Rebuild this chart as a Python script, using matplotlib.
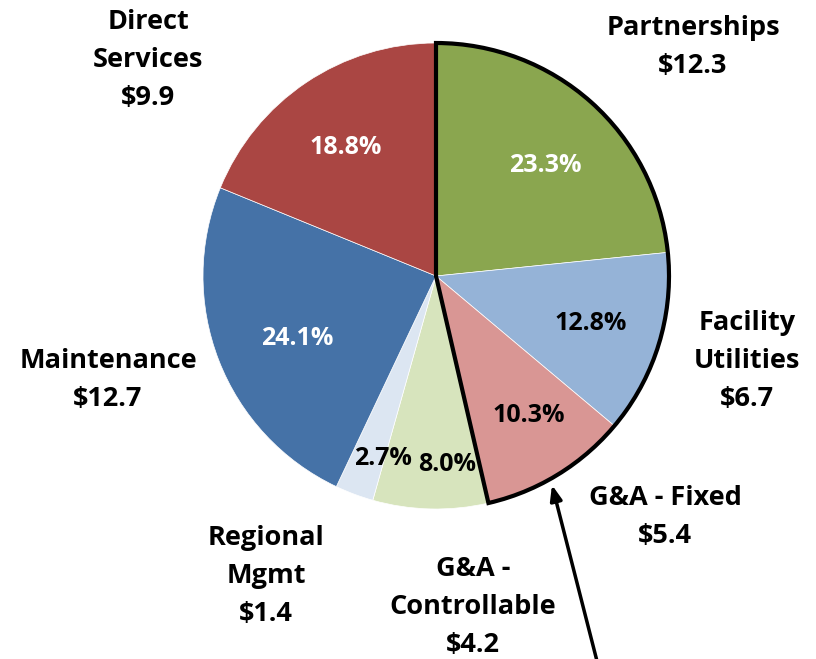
import numpy as np
import matplotlib
matplotlib.use("Agg")
import matplotlib.pyplot as plt
from matplotlib.patches import Wedge

categories = ["Partnerships", "Facility\nUtilities", "G&A - Fixed", "G&A -\nControllable",
              "Regional\nMgmt", "Maintenance", "Direct\nServices"]
values = [12.3, 6.7, 5.4, 4.2, 1.4, 12.7, 9.9]
pct_labels = ["23.3%", "12.8%", "10.3%", "8.0%", "2.7%", "24.1%", "18.8%"]
dollar_labels = ["$12.3", "$6.7", "$5.4", "$4.2", "$1.4", "$12.7", "$9.9"]

colors = ["#8AA64F", "#95B3D7", "#D99694", "#D7E4BD", "#DCE6F2", "#4572A7", "#AA4643"]
pct_colors = ["white", "black", "black", "black", "black", "white", "white"]
pct_dist = [0.668, 0.695, 0.72, 0.81, 0.815, 0.651, 0.675]
pct_angle_shift = [-2.5, 0, 2.2, 4.7, 4.2, 3.0, 1.1]
# outer label positions (pixel coords of text center)
outer_pos = [(693, 47), (747, 361), (665, 517), (473, 607), (266, 576), (108, 380), (148, 60)]

W, H = 816, 659
plt.rcParams['font.family'] = ['Open Sans', 'DejaVu Sans']
fig = plt.figure(figsize=(W / 100, H / 100), dpi=100)
ax = fig.add_axes([0, 0, 1, 1])

cx, cy, r = 436, H - 276, 233
wedges, _ = ax.pie(values, colors=colors, startangle=90, counterclock=False,
                   center=(cx, cy), radius=r, frame=True,
                   wedgeprops=dict(edgecolor="white", linewidth=0.5))
ax.set_xlim(0, W)
ax.set_ylim(0, H)
ax.axis("off")

for w, lab, col, d, sh in zip(wedges, pct_labels, pct_colors, pct_dist, pct_angle_shift):
    ang = np.deg2rad((w.theta1 + w.theta2) / 2 + sh)
    ax.text(cx + d * r * np.cos(ang), cy + d * r * np.sin(ang), lab, ha="center", va="center",
            color=col, fontsize=18, fontweight="bold")

for cat, dl, (px, py) in zip(categories, dollar_labels, outer_pos):
    ax.text(px, H - py, cat + "\n" + dl, ha="center", va="center", fontsize=19.5,
            fontweight="bold", color="black", linespacing=1.6)

# outline around first three slices
theta_end = wedges[2].theta1
outline = Wedge((cx, cy), r, theta_end, 90, fill=False, edgecolor="black", linewidth=3,
                joinstyle="miter", zorder=5)
ax.add_patch(outline)

ax.annotate("", xy=(552, H - 485), xytext=(598, H - 665),
            arrowprops=dict(arrowstyle="-|>,head_length=0.9,head_width=0.35", lw=2.5,
                            color="black", shrinkA=0, shrinkB=0), zorder=6)

fig.savefig("out.png", dpi=100, facecolor="white")
